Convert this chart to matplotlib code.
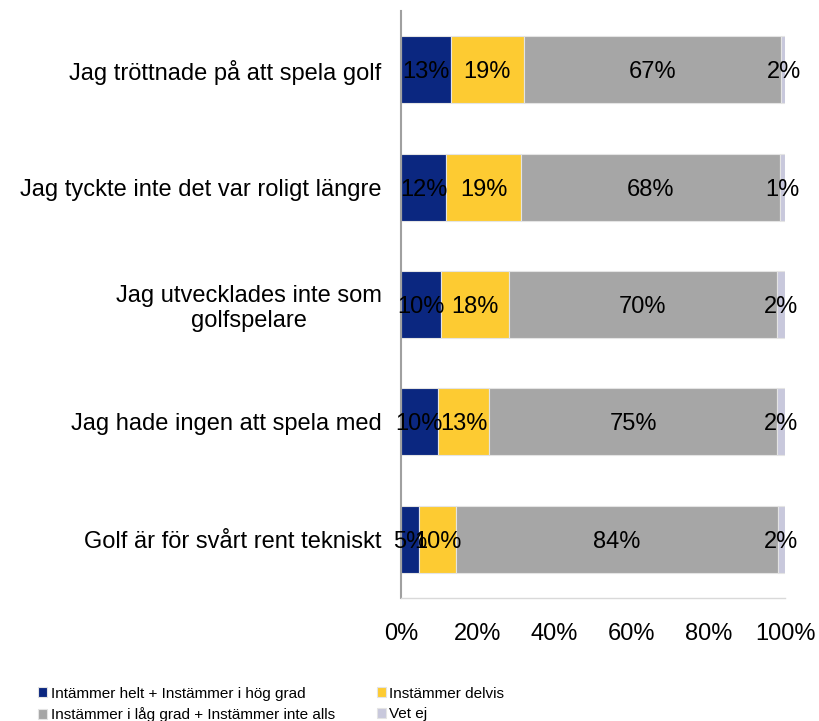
import numpy as np
import matplotlib
matplotlib.use('Agg')
import matplotlib.pyplot as plt

plt.rcParams['font.family'] = ['Liberation Sans', 'DejaVu Sans']

categories = ["Jag tröttnade på att spela golf",
              "Jag tyckte inte det var roligt längre",
              "Jag utvecklades inte som\ngolfspelare",
              "Jag hade ingen att spela med",
              "Golf är för svårt rent tekniskt"]

series_names = ["Intämmer helt + Instämmer i hög grad",
                "Instämmer delvis",
                "Instämmer i låg grad + Instämmer inte alls",
                "Vet ej"]

helt = [12.9, 11.8, 10.3, 9.6, 4.6]
delvis = [19.1, 19.4, 17.8, 13.4, 9.8]
lag_grad = [67.0, 67.6, 69.8, 75.0, 83.7]
vet_ej = [1.6, 1.2, 2.1, 2.0, 1.9]

colors = ["#0b2780", "#fdcb32", "#a6a6a6", "#c8c8dc"]
xticks = [0, 20, 40, 60, 80, 100]

fig = plt.figure(figsize=(8.19, 7.21), dpi=100)
ax = fig.add_axes([0.4896, 0.1706, 0.4689, 0.8141])

y = np.arange(len(categories))
left = np.zeros(len(categories))
handles = []
for vals, col, name in zip([helt, delvis, lag_grad, vet_ej], colors, series_names):
    vals = np.array(vals)
    bars = ax.barh(y, vals, left=left, height=0.57, color=col,
                   edgecolor="#e4e4e4", linewidth=0.8, label=name)
    handles.append(bars)
    for yi, l, v in zip(y, left, vals):
        ax.text(l + v / 2, yi, "{:.0f}%".format(v), ha='center',
                va='center_baseline', fontsize=17, color='black')
    left += vals

ax.set_ylim(len(categories) - 0.5, -0.5)
ax.set_xlim(0, 100)
ax.set_yticks(y)
ax.set_yticklabels(categories, fontsize=17, multialignment='center')
ax.set_xticks(xticks)
ax.set_xticklabels(["{}%".format(t) for t in xticks], fontsize=17)
ax.tick_params(axis='both', length=0)
ax.tick_params(axis='x', pad=18)
ax.tick_params(axis='y', pad=14)

for s in ['top', 'right']:
    ax.spines[s].set_visible(False)
ax.spines['left'].set_color("#a0a0a0")
ax.spines['left'].set_linewidth(1.5)
ax.spines['bottom'].set_color("#d9d9d9")
ax.spines['bottom'].set_linewidth(1.0)

# legend fills column by column, so reorder to get the reference row order
order = [0, 2, 1, 3]
fig.legend(handles=[handles[i] for i in order],
           labels=[series_names[i] for i in order], loc='lower left',
           bbox_to_anchor=(0.03, -0.021), ncol=2, frameon=False,
           fontsize=11, handlelength=0.6, handleheight=0.6,
           handletextpad=0.2, columnspacing=2.75, labelspacing=0.45)

fig.savefig("out.png", dpi=100)
